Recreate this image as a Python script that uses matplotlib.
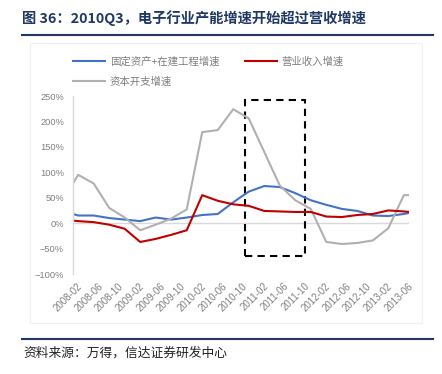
import pandas as pd
import matplotlib.pyplot as plt
import matplotlib.transforms as mtransforms
from matplotlib.patches import Rectangle
from matplotlib.lines import Line2D

plt.rcParams['font.family'] = ['Liberation Sans', 'Noto Sans CJK SC', 'DejaVu Sans']
CJK = ['Noto Sans CJK SC', 'DejaVu Sans']

# quarterly points (plus the first Feb and a trailing Jul value)
dates = ["2008-02", "2008-03", "2008-06", "2008-09", "2008-12",
         "2009-03", "2009-06", "2009-09", "2009-12",
         "2010-03", "2010-06", "2010-09", "2010-12",
         "2011-03", "2011-06", "2011-09", "2011-12",
         "2012-03", "2012-06", "2012-09", "2012-12",
         "2013-03", "2013-06", "2013-07"]
fixed_asset = [18, 15, 15, 10, 7, 4, 11, 7, 11, 16, 18,
               41, 62, 73, 71, 59, 45, 36, 28, 24, 15, 14, 18, 20]
revenue = [5, 4, 2, -3, -11, -37, -31, -23, -14, 55, 44,
           37, 34, 24, 23, 22, 22, 13, 12, 16, 18, 25, 23, 22]
capex = [78, 95, 78, 30, 11, -14, -3, 9, 27, 179, 183,
         224, 206, 140, 74, 45, 28, -37, -41, -39, -34, -10, 55, 55]
tick_labels = ["2008-02", "2008-06", "2008-10", "2009-02", "2009-06", "2009-10",
               "2010-02", "2010-06", "2010-10", "2011-02", "2011-06", "2011-10",
               "2012-02", "2012-06", "2012-10", "2013-02", "2013-06"]
names = ["固定资产+在建工程增速", "营业收入增速", "资本开支增速"]
# highlighted window (months from 2008-02, percent)
box_x = [33.2, 44.8]
box_y = [-64, 243]


def month_idx(s):
    p = pd.Period(s, freq="M") - pd.Period("2008-02", freq="M")
    return p.n


x = [month_idx(d) for d in dates]
ticks = [month_idx(t) for t in tick_labels]

fig = plt.figure(figsize=(4.42, 3.74), dpi=100)
navy = "#1f3864"
grey_txt = "#808080"

fig.text(22 / 442, 1 - 18 / 374, "图 36：2010Q3，电子行业产能增速开始超过营收增速",
         family=CJK, fontsize=10.3, fontweight="bold", color=navy, va="center")
fig.add_artist(Line2D([22 / 442, 433 / 442], [1 - 35 / 374] * 2, color=navy, lw=1.5))
fig.add_artist(Line2D([22 / 442, 433 / 442], [1 - 339 / 374] * 2, color=navy, lw=1.5))
fig.text(23 / 442, 1 - 353 / 374, "资料来源：万得，信达证券研发中心",
         family=CJK, fontsize=9.2, style="italic", color="#222222", va="center")
fig.add_artist(Rectangle((30 / 442, 1 - 323 / 374), 392 / 442, 280 / 374,
                         fill=False, ec="#f0f0f0", lw=0.8))

ax = fig.add_axes([73 / 442, 1 - 274 / 374, 336 / 442, 178 / 374])
ax.plot(x, fixed_asset, color="#4472c4", lw=1.5, label=names[0])
ax.plot(x, capex, color="#b0b0b0", lw=1.5, label=names[2])
ax.plot(x, revenue, color="#c00000", lw=1.5, label=names[1])
ax.axhline(0, color="#d9d9d9", lw=1, zorder=0)

ax.add_patch(Rectangle((box_x[0], box_y[0]), box_x[1] - box_x[0], box_y[1] - box_y[0],
                       fill=False, ec="black", lw=1.5, ls=(0, (3.5, 2.5))))

ax.set_xlim(0, 65)
ax.set_ylim(-100, 250)
ax.set_yticks(range(-100, 251, 50))
ax.set_yticklabels([f"{v}%".replace("-", "−") for v in range(-100, 251, 50)])
ax.set_xticks(ticks)
ax.set_xticklabels(tick_labels, rotation=45, ha="right", rotation_mode="anchor")
ax.tick_params(axis="both", length=0, colors=grey_txt)
ax.tick_params(axis="y", labelsize=6.7, pad=6.5)
ax.tick_params(axis="x", labelsize=7, pad=5)
# excel puts the rotated labels slightly right of the tick
shift = mtransforms.ScaledTranslation(4 / 100, 0, fig.dpi_scale_trans)
for lbl in ax.get_xticklabels():
    lbl.set_transform(lbl.get_transform() + shift)
for side in ["top", "right", "bottom"]:
    ax.spines[side].set_visible(False)
ax.spines["left"].set_color("#d9d9d9")
ax.spines["left"].set_linewidth(1)

leg = fig.legend(ncol=2, loc="upper left", bbox_to_anchor=(64 / 442, 1 - 47 / 374),
                 frameon=False, prop={"family": CJK, "size": 7.5},
                 handlelength=3, handletextpad=0.5, columnspacing=2.5,
                 labelspacing=0.9, labelcolor="#7f7f7f")

fig.savefig("out.png", dpi=100)
